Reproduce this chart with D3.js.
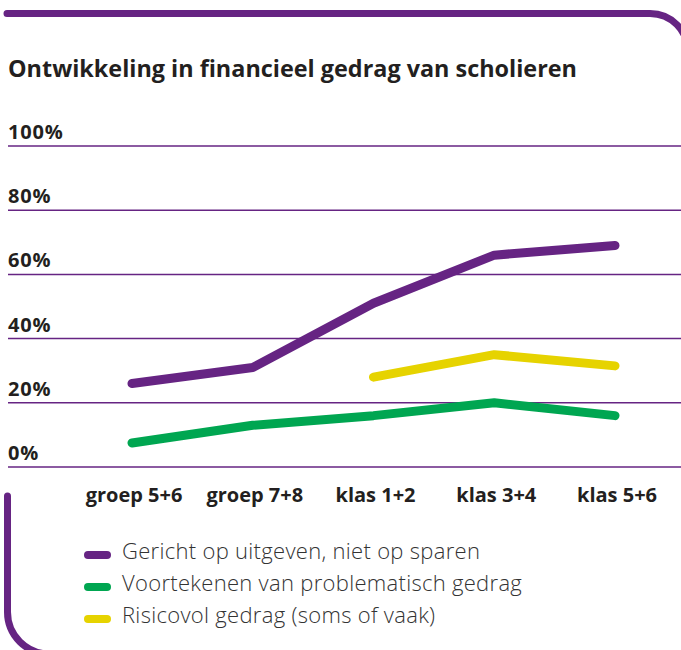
<!DOCTYPE html>
<html lang="nl">
  <head>
    <meta charset="UTF-8" />
    <title>Ontwikkeling in financieel gedrag van scholieren</title>
    <script src="https://cdn.jsdelivr.net/npm/d3@7/dist/d3.min.js"></script>
    <style>
      body { margin: 0; background: #fff; }
      svg { display: block; }
    </style>
  </head>
  <body>
    <svg width="681" height="650"></svg>

    <script>
      // data
      const categories = ['groep 5+6', 'groep 7+8', 'klas 1+2', 'klas 3+4', 'klas 5+6']
      const uitgeven = [26, 31, 51, 66, 69]
      const voortekenen = [7.5, 13, 16, 20, 16]
      const risicovol = [null, null, 28, 35, 31.5]
      const yTicks = [0, 20, 40, 60, 80, 100]
      const seriesNames = [
        'Gericht op uitgeven, niet op sparen',
        'Voortekenen van problematisch gedrag',
        'Risicovol gedrag (soms of vaak)',
      ]

      const purple = '#662483'
      const green = '#00a651'
      const yellow = '#e6d300'
      const textColor = '#231f20'

      const series = [
        { name: seriesNames[0], values: uitgeven, color: purple },
        { name: seriesNames[1], values: voortekenen, color: green },
        { name: seriesNames[2], values: risicovol, color: yellow },
      ]

      const svg = d3.select('svg')
      const width = +svg.attr('width')

      // frame decoration (top bar + bottom-left corner), partly off the canvas
      svg.append('path')
        .attr('d', 'M7,13.5 H650 A38,38 0 0 1 688,51.5 V120')
        .attr('fill', 'none')
        .attr('stroke', purple)
        .attr('stroke-width', 7)
        .attr('stroke-linecap', 'round')
      svg.append('path')
        .attr('d', 'M7.5,496 V612 A42,42 0 0 0 49.5,654 H120')
        .attr('fill', 'none')
        .attr('stroke', purple)
        .attr('stroke-width', 7)
        .attr('stroke-linecap', 'round')

      // title
      svg.append('text')
        .attr('x', 8)
        .attr('y', 77)
        .attr('fill', textColor)
        .attr('textLength', 569)
        .attr('lengthAdjust', 'spacingAndGlyphs')
        .style('font-family', '"Open Sans", sans-serif')
        .style('font-weight', 700)
        .style('font-size', '24px')
        .text('Ontwikkeling in financieel gedrag van scholieren')

      const x = d3.scalePoint().domain(categories).range([132, 615])
      const y = d3.scaleLinear().domain([0, 100]).range([467, 146])

      // gridlines + labels
      const grid = svg.append('g').attr('class', 'grid')
      grid.selectAll('line')
        .data(yTicks)
        .enter()
        .append('line')
        .attr('x1', 8)
        .attr('x2', width)
        .attr('y1', (d) => y(d))
        .attr('y2', (d) => y(d))
        .attr('stroke', purple)
        .attr('stroke-width', 1.5)
      grid.selectAll('text')
        .data(yTicks)
        .enter()
        .append('text')
        .attr('x', 8)
        .attr('y', (d) => y(d) - 7)
        .attr('fill', textColor)
        .style('font-family', '"Open Sans", sans-serif')
        .style('font-weight', 700)
        .style('font-size', '20px')
        .style('letter-spacing', '0.8px')
        .text((d) => d + '%')

      // x labels
      svg.append('g')
        .selectAll('text')
        .data(categories)
        .enter()
        .append('text')
        .attr('x', (d) => x(d) + 2)
        .attr('y', 502)
        .attr('text-anchor', 'middle')
        .attr('fill', textColor)
        .style('font-family', '"Open Sans", sans-serif')
        .style('font-weight', 700)
        .style('font-size', '20px')
        .text((d) => d)

      // lines
      const line = d3.line()
        .defined((d) => d != null)
        .x((d, i) => x(categories[i]))
        .y((d) => y(d))

      svg.append('g')
        .selectAll('path')
        .data(series)
        .enter()
        .append('path')
        .attr('d', (d) => line(d.values))
        .attr('fill', 'none')
        .attr('stroke', (d) => d.color)
        .attr('stroke-width', 9)
        .attr('stroke-linecap', 'round')
        .attr('stroke-linejoin', 'round')

      // legend
      const legend = svg.append('g')
        .selectAll('g')
        .data(series)
        .enter()
        .append('g')
        .attr('transform', (d, i) => `translate(84, ${555 + i * 32})`)
      legend.append('rect')
        .attr('x', 0)
        .attr('y', -4)
        .attr('width', 27)
        .attr('height', 8)
        .attr('rx', 4)
        .attr('fill', (d) => d.color)
      legend.append('text')
        .attr('x', 38)
        .attr('y', 4)
        .attr('fill', '#333')
        .style('font-family', '"Open Sans", sans-serif')
        .style('font-weight', 300)
        .style('font-size', '22px')
        .style('letter-spacing', '0.3px')
        .text((d) => d.name)
    </script>
  </body>
</html>
